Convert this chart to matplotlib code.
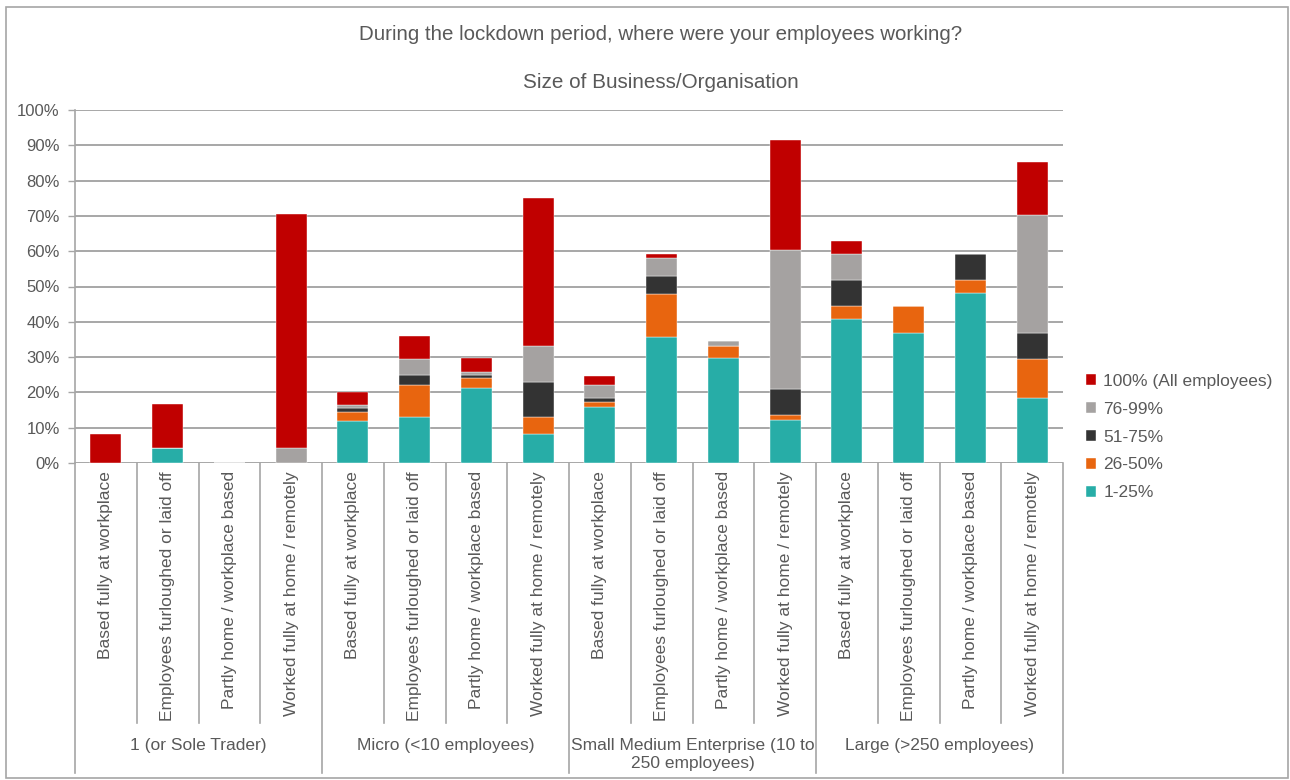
import matplotlib
matplotlib.use("Agg")
import matplotlib.pyplot as plt
from matplotlib.patches import Rectangle
import numpy as np

plt.rcParams['font.family'] = ['Liberation Sans', 'DejaVu Sans']

groups = ["1 (or Sole Trader)", "Micro (<10 employees)",
          "Small Medium Enterprise (10 to\n250 employees)", "Large (>250 employees)"]
locations = ["Based fully at workplace", "Employees furloughed or laid off",
             "Partly home / workplace based", "Worked fully at home / remotely"]

series_names = ["1-25%", "26-50%", "51-75%", "76-99%", "100% (All employees)"]
colors = ["#27ADA7", "#E8650F", "#333333", "#A5A2A1", "#C00000"]

# values per bar (16 bars: 4 groups x 4 locations), in percent
s_1_25 = [0, 4.2, 0, 0,
          11.9, 12.9, 21.3, 8.2,
          15.9, 35.7, 29.7, 12.3,
          40.7, 36.8, 48.1, 18.5]
s_26_50 = [0, 0, 0, 0,
           2.6, 9.2, 2.7, 4.7,
           1.3, 12.3, 3.5, 1.2,
           3.8, 7.7, 3.7, 11.1]
s_51_75 = [0, 0, 0, 0,
           1.2, 2.8, 0.9, 10.0,
           1.2, 5.0, 0, 7.5,
           7.3, 0, 7.3, 7.2]
s_76_99 = [0, 0, 0, 4.2,
           0.8, 4.7, 0.8, 10.3,
           3.7, 5.1, 1.4, 39.3,
           7.3, 0, 0, 33.4]
s_100 = [8.2, 12.4, 0, 66.4,
         3.7, 6.5, 4.0, 41.8,
         2.5, 1.1, 0, 31.1,
         3.9, 0, 0, 15.0]

series = [s_1_25, s_26_50, s_51_75, s_76_99, s_100]

W, H = 1290, 780
fig = plt.figure(figsize=(W / 100, H / 100), dpi=100)
fig.patch.set_facecolor("white")

# outer chart border
fig.add_artist(Rectangle((6 / W, 1 - 778 / H), (1288 - 6) / W, (778 - 7) / H,
                         transform=fig.transFigure, fill=False,
                         edgecolor="#A6A6A6", linewidth=1.2))

left, right, top, bottom = 75, 1063, 110, 463
ax = fig.add_axes([left / W, 1 - bottom / H, (right - left) / W, (bottom - top) / H])

n = len(s_1_25)
x = np.arange(n)
base = np.zeros(n)
handles = []
for vals, name, c in zip(series, series_names, colors):
    v = np.array(vals, dtype=float)
    b = ax.bar(x, v, width=0.5, bottom=base, color=c, label=name, zorder=3,
               edgecolor="white", linewidth=0.3)
    handles.append(b)
    base += v

ax.set_xlim(-0.5, n - 0.5)
ax.set_ylim(0, 100)
ax.set_yticks(np.arange(0, 101, 10))
ax.set_yticklabels([f"{v}%" for v in range(0, 101, 10)])
ax.yaxis.grid(True, color="#A0A0A0", linewidth=1.3, zorder=0)
ax.set_axisbelow(True)
ax.tick_params(axis="y", length=5, width=1, color="#A6A6A6", labelsize=12,
               labelcolor="#595959", pad=6)
ax.set_xticks([])
for s in ["top", "right", "bottom"]:
    ax.spines[s].set_visible(False)
ax.spines["left"].set_color("#A6A6A6")
ax.spines["left"].set_linewidth(1.2)

trans = ax.get_xaxis_transform()
inner_end = (bottom - 723) / (bottom - top)
outer_end = (bottom - 773) / (bottom - top)
for i in range(n + 1):
    xb = i - 0.5
    end = outer_end if i % 4 == 0 else inner_end
    ax.plot([xb, xb], [0, end], transform=trans, color="#A6A6A6",
            linewidth=1.2, clip_on=False, zorder=1)

label_top = (bottom - 471) / (bottom - top)
for i in range(n):
    ax.text(i, label_top, locations[i % 4], transform=trans, rotation=90,
            ha="center", va="top", fontsize=12.5, color="#595959")

grp_y = (bottom - 738) / (bottom - top)
for g, name in enumerate(groups):
    ax.text(4 * g + 1.5, grp_y, name, transform=trans, ha="center", va="top",
            fontsize=12.5, color="#595959", linespacing=1.25)

fig.text((357 + 965) / 2 / W, 1 - 35 / H,
         "During the lockdown period, where were your employees working?",
         ha="center", va="center", fontsize=14.8, color="#595959")
fig.text((522 + 800) / 2 / W, 1 - 82 / H, "Size of Business/Organisation",
         ha="center", va="center", fontsize=14.9, color="#595959")

leg = fig.legend(handles[::-1], series_names[::-1], loc="upper left",
                 bbox_to_anchor=(1079 / W, 1 - 367 / H), frameon=False,
                 fontsize=12.5, labelcolor="#595959", handlelength=0.6,
                 handleheight=0.6, handletextpad=0.4, labelspacing=0.74,
                 borderaxespad=0)

fig.savefig("out.png", dpi=100, facecolor="white")
